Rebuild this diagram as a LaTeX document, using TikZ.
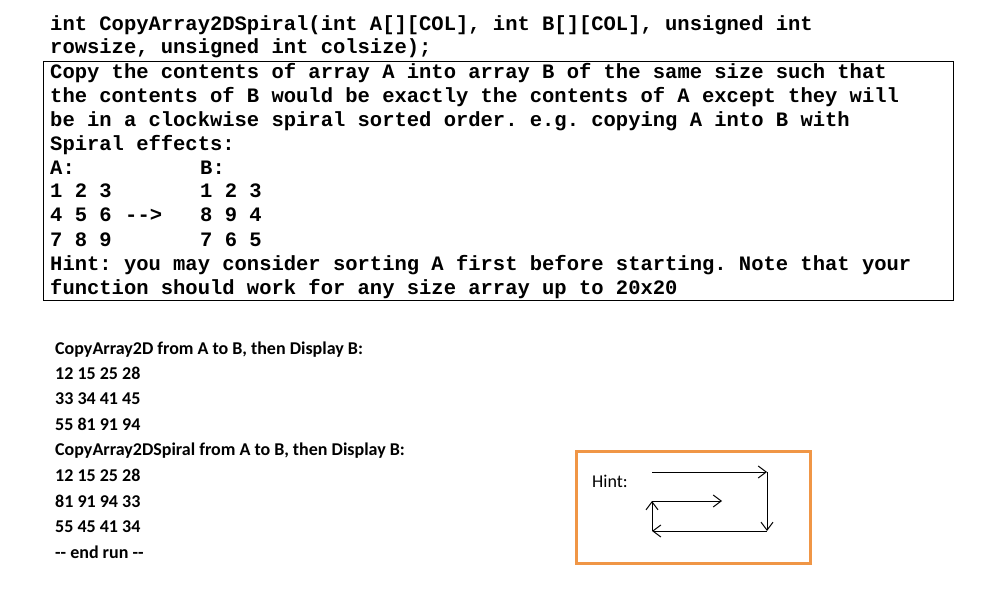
\documentclass[tikz,border=0pt]{standalone}
\usepackage{fontspec}
\usetikzlibrary{arrows.meta}
\setmonofont{Liberation Mono}
\newfontfamily\calfont{Carlito}
\begin{document}
\begin{tikzpicture}[x=1pt,y=-1pt,
 code/.style={anchor=base west,inner sep=0pt,font=\ttfamily\bfseries\fontsize{20.5}{24}\selectfont},
 outtxt/.style={anchor=base west,inner sep=0pt,font=\calfont\bfseries\fontsize{18}{22}\selectfont},
 arr/.style={->,>={Straight Barb[length=8pt,width=12pt]},line width=1pt}]
\useasboundingbox (0,0) rectangle (986,607);
\draw[line width=0.8pt] (43,61) rectangle (953,300);
\node[code] (l1) at (50,31) {int CopyArray2DSpiral(int A[][COL], int B[][COL], unsigned int};
\node[code] (l2) at (50,54) {rowsize, unsigned int colsize);};
\node[code] (l3) at (50,79) {Copy the contents of array A into array B of the same size such that};
\node[code] (l4) at (50,103) {the contents of B would be exactly the contents of A except they will};
\node[code] (l5) at (50,127) {be in a clockwise spiral sorted order. e.g. copying A into B with};
\node[code] (l6) at (50,151) {Spiral effects:};
\node[code] (a0) at (50,175) {A:};
\node[code] (b0) at (200,175) {B:};
\node[code] (a1) at (50,198) {1 2 3};
\node[code] (b1) at (200,198) {1 2 3};
\node[code] (a2) at (50,222) {4 5 6};
\node[code] (ar) at (125,222) {-->};
\node[code] (b2) at (200,222) {8 9 4};
\node[code] (a3) at (50,246) {7 8 9};
\node[code] (b3) at (200,246) {7 6 5};
\node[code] (l7) at (50,270) {Hint: you may consider sorting A first before starting. Note that your};
\node[code] (l8) at (50,294) {function should work for any size array up to 20x20};
\node[outtxt] (o1) at (55,354) {CopyArray2D from A to B, then Display B:};
\node[outtxt] (o2) at (55,379) {12 15 25 28};
\node[outtxt] (o3) at (55,404) {33 34 41 45};
\node[outtxt] (o4) at (55,430) {55 81 91 94};
\node[outtxt] (o5) at (55,455) {CopyArray2DSpiral from A to B, then Display B:};
\node[outtxt] (o6) at (55,481) {12 15 25 28};
\node[outtxt] (o7) at (55,507) {81 91 94 33};
\node[outtxt] (o8) at (55,532) {55 45 41 34};
\node[outtxt] (o9) at (55,558) {-- end run --};
\draw[color={rgb,255:red,240;green,150;blue,70},line width=3pt] (576,451) rectangle (810,563);
\node[anchor=base west,inner sep=0pt,font=\calfont\fontsize{18}{22}\selectfont] (h) at (592,487) {Hint:};
\coordinate (p1) at (652,472); \coordinate (p2) at (767,472);
\coordinate (p3) at (767,531); \coordinate (p4) at (652,531);
\coordinate (p5) at (652,501); \coordinate (p6) at (722,501);
\draw[arr] (p1) -- (p2); \draw[arr] (p2) -- (p3); \draw[arr] (p3) -- (p4);
\draw[arr] (p4) -- (p5); \draw[arr] (p5) -- (p6);
\end{tikzpicture}
\end{document}
